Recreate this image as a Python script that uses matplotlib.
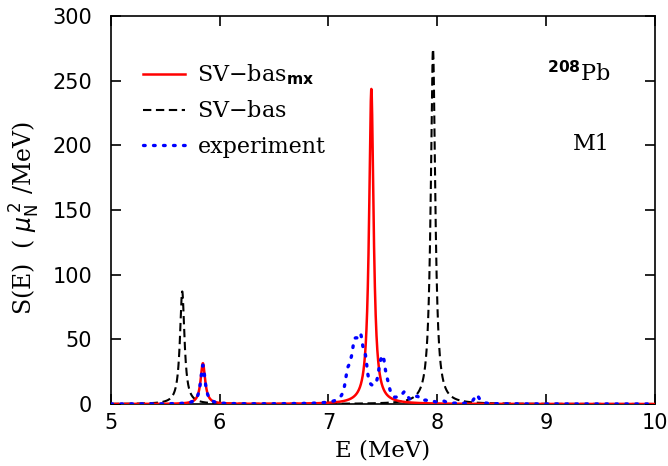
import matplotlib
matplotlib.use('Agg')
import matplotlib.pyplot as plt
import numpy as np

# discrete M1 states: energy (MeV), peak height of folded strength
mx_E = [5.846, 7.395]
mx_S = [31.5, 243.5]
bas_E = [5.656, 7.962]
bas_S = [87.0, 274.5]

exp_E = [5.846, 7.16, 7.175, 7.205, 7.235, 7.25, 7.265, 7.295, 7.31, 7.34, 7.385, 7.40,
         7.415, 7.46, 7.475, 7.49, 7.505, 7.535, 7.55, 7.655, 7.70, 7.715, 7.805, 7.82,
         7.895, 7.97, 8.06, 8.12, 8.195, 8.36, 8.375]
exp_S = [30.0, 0.8, 14.7, 11.0, 22.7, 7.9, 16.6, 27.7, 9.3, 21.6, 1.5, 0.6,
         3.1, 4.5, 10.8, 7.2, 20.7, 5.4, 3.6, 3.9, 5.3, 2.5, 1.3, 3.7,
         1.8, 1.1, 1.7, 0.3, 0.3, 5.6, 1.9]
width = 0.05  # Lorentzian folding width (MeV)

xticks = [5, 6, 7, 8, 9, 10]
yticks = [0, 50, 100, 150, 200, 250, 300]

E = np.linspace(5, 10, 4001)


def fold(energies, heights, gam):
    s = np.zeros_like(E)
    for e0, h in zip(energies, heights):
        s += h * (gam / 2) ** 2 / ((E - e0) ** 2 + (gam / 2) ** 2)
    return s


fig = plt.figure(figsize=(6.68, 4.66), dpi=100)
ax = fig.add_axes([0.166, 0.133, 0.814, 0.833])

serif = {'family': 'DejaVu Serif', 'size': 16}

ax.plot(E, fold(bas_E, bas_S, width), color='black', linestyle=(0, (4, 2.2)),
        linewidth=1.5, label='SV$-$bas', zorder=2)
ax.plot(E, fold(mx_E, mx_S, width), color='red', linewidth=1.8,
        label=r'SV$-$bas$_{\mathbf{mx}}$', zorder=3)
ax.plot(E, fold(exp_E, exp_S, width), color='blue', linestyle=(0, (0.5, 2.5)),
        linewidth=2.4, dash_capstyle='round', label='experiment', zorder=4)

ax.set_xlim(5, 10)
ax.set_ylim(0, 300)
ax.set_xticks(xticks)
ax.set_yticks(yticks)
ax.tick_params(direction='in', length=7, width=1.2, top=True, right=True, labelsize=15)
ax.tick_params(axis='x', pad=6.5)
ax.tick_params(axis='y', pad=13.5)
for sp in ax.spines.values():
    sp.set_linewidth(1.2)

ax.set_xlabel('E (MeV)', fontdict={'family': 'DejaVu Serif', 'size': 16.5}, labelpad=5)
ax.set_ylabel(r'S(E)  ( $\mu_{\rm N}^{\,2}$ /MeV)', fontdict={'family': 'DejaVu Serif', 'size': 17})
ax.yaxis.set_label_coords(-0.127, 0.48)

h, l = ax.get_legend_handles_labels()
h = [h[1], h[0], h[2]]
l = [l[1], l[0], l[2]]
ax.legend(h, l, loc='upper left', bbox_to_anchor=(0.059, 0.88), borderaxespad=0,
          borderpad=0, frameon=False, prop=serif, handlelength=1.9, handletextpad=0.55,
          labelspacing=0.6)

ax.text(0.918, 0.852, r'$^{\mathbf{208}}$Pb', transform=ax.transAxes, ha='right',
        va='center', fontdict=serif)
ax.text(0.918, 0.671, 'M1', transform=ax.transAxes, ha='right', va='center',
        fontdict=serif)

fig.savefig('out.png', dpi=100)
